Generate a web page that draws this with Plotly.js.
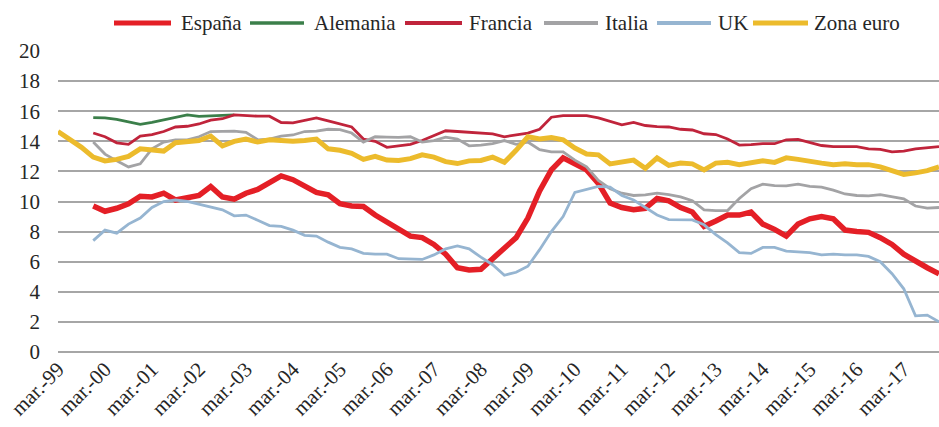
<!DOCTYPE html>
<html>
<head>
<meta charset="utf-8">
<script src="https://cdn.plot.ly/plotly-3.0.1.min.js"></script>
<style>html,body{margin:0;padding:0;background:#fff;}#chart{width:939px;height:427px;}</style>
</head>
<body>
<div id="chart"></div>
<script>
// Quarterly series, mar-99 .. dec-17 (76 quarters)
const tickLabels = ['mar.-99','mar.-00','mar.-01','mar.-02','mar.-03','mar.-04','mar.-05','mar.-06','mar.-07','mar.-08','mar.-09','mar.-10','mar.-11','mar.-12','mar.-13','mar.-14','mar.-15','mar.-16','mar.-17'];

const espana = [null,null,null,9.7,9.35,9.55,9.85,10.35,10.3,10.55,10.1,10.25,10.4,11.0,10.3,10.15,10.55,10.8,11.2,11.7,11.45,11.0,10.6,10.45,9.85,9.7,9.67,9.1,8.6,8.1,7.7,7.6,7.15,6.5,5.6,5.45,5.5,6.2,6.9,7.6,8.9,10.7,12.1,12.9,12.5,12.1,11.2,9.9,9.6,9.45,9.55,10.2,10.05,9.6,9.3,8.35,8.7,9.1,9.1,9.3,8.5,8.15,7.7,8.5,8.85,9.0,8.85,8.1,8.0,7.95,7.6,7.15,6.5,6.0,5.6,5.2];

const alemania = [null,null,null,15.57,15.55,15.45,15.27,15.12,15.25,15.43,15.6,15.75,15.65,15.7,15.75,15.75];

const francia = [null,null,null,14.55,14.3,13.9,13.8,14.35,14.45,14.65,14.95,15.0,15.15,15.4,15.5,15.75,15.7,15.67,15.67,15.25,15.22,15.4,15.55,15.35,15.15,14.95,14.15,14.0,13.6,13.7,13.8,14.05,14.4,14.7,14.65,14.6,14.5,14.5,14.3,14.45,14.55,14.8,15.6,15.7,15.72,15.7,15.55,15.35,15.1,15.25,15.05,14.97,14.95,14.8,14.75,14.5,14.45,14.15,13.75,13.78,13.84,13.84,14.1,14.13,13.92,13.72,13.65,13.65,13.65,13.5,13.47,13.3,13.35,13.5,13.6,13.65];

const italia = [null,null,null,13.95,13.15,12.7,12.3,12.5,13.5,13.95,14.1,14.1,14.3,14.65,14.68,14.68,14.6,14.1,14.15,14.35,14.42,14.65,14.68,14.8,14.78,14.55,13.95,14.3,14.28,14.26,14.3,13.95,14.05,14.28,14.15,13.7,13.75,13.85,14.05,13.8,13.95,13.45,13.3,13.3,12.75,12.3,11.4,10.85,10.55,10.4,10.44,10.55,10.45,10.3,10.05,9.45,9.4,9.4,10.2,10.85,11.15,11.05,11.04,11.15,11.0,10.96,10.75,10.5,10.4,10.38,10.45,10.3,10.18,9.7,9.56,9.6];

const uk = [null,null,null,7.4,8.1,7.9,8.5,8.9,9.6,10.0,10.1,10.0,9.8,9.65,9.45,9.05,9.1,8.75,8.4,8.35,8.1,7.75,7.7,7.3,6.95,6.85,6.55,6.5,6.5,6.2,6.15,6.15,6.45,6.85,7.05,6.85,6.3,5.8,5.1,5.3,5.7,6.8,8.0,9.0,10.6,10.8,11.0,10.95,10.4,10.1,9.6,9.1,8.8,8.78,8.78,8.45,7.8,7.25,6.6,6.55,6.95,6.95,6.7,6.65,6.6,6.45,6.5,6.45,6.45,6.35,6.0,5.2,4.2,2.4,2.45,2.0];

const zonaEuro = [14.65,14.15,13.6,12.95,12.7,12.8,13.0,13.5,13.45,13.35,13.9,13.95,14.05,14.35,13.7,14.0,14.15,13.95,14.1,14.05,14.0,14.05,14.15,13.5,13.4,13.2,12.8,13.0,12.75,12.73,12.85,13.1,12.95,12.65,12.52,12.7,12.73,12.95,12.6,13.4,14.3,14.15,14.25,14.1,13.55,13.15,13.1,12.5,12.65,12.75,12.2,12.9,12.4,12.55,12.5,12.1,12.55,12.6,12.45,12.55,12.7,12.6,12.9,12.8,12.65,12.55,12.45,12.5,12.45,12.45,12.3,12.05,11.8,11.9,12.05,12.3];

const seriesNames = ['España','Alemania','Francia','Italia','UK','Zona euro'];
const seriesData = [espana, alemania, francia, italia, uk, zonaEuro];
const seriesColors = ['#e41f26','#3b7f4a','#c0243b','#a3a3a5','#96b5d1','#ecbb2c'];
const seriesWidths = [5.5, 2.8, 2.8, 2.8, 2.8, 5];

const traces = seriesData.map((vals, k) => ({
  type: 'scatter',
  mode: 'lines',
  name: seriesNames[k],
  x: vals.map((_, i) => i),
  y: vals,
  line: {color: seriesColors[k], width: seriesWidths[k]},
  connectgaps: false,
  showlegend: false,
  hoverinfo: 'skip'
}));

// manual legend (pixel layout converted to paper coords)
const L = 58, W = 881, T = 51, H = 301;
const px = v => (v - L) / W;
const py = v => (T + H - v) / H;
const legLine = [[114,171],[250,304],[405,462],[544,598],[657,711],[753,808]];
const legText = [179,312,467,603,716,812];
const legWidth = [5,3.5,4,4,4,5];
const legY = 23;
const FONT = 'Liberation Serif, Times New Roman, serif';
const shapes = [], annotations = [];
seriesNames.forEach((n, k) => {
  shapes.push({type:'line', xref:'paper', yref:'paper', x0:px(legLine[k][0]), x1:px(legLine[k][1]), y0:py(legY), y1:py(legY), line:{color:seriesColors[k], width:legWidth[k]}});
  annotations.push({xref:'paper', yref:'paper', x:px(legText[k]), y:py(legY), xanchor:'left', yanchor:'middle', text:n, showarrow:false, font:{family:FONT, size:21, color:'#262626'}});
});

const layout = {
  width: 939, height: 427,
  margin: {l: L, r: 0, t: T, b: 427 - T - H},
  paper_bgcolor: '#ffffff', plot_bgcolor: '#ffffff',
  font: {family: FONT, size: 21, color: '#262626'},
  showlegend: false,
  xaxis: {
    range: [0, 75], showgrid: false, zeroline: false, showline: false, ticks: '',
    tickmode: 'array', tickvals: tickLabels.map((_, i) => i * 4), ticktext: tickLabels,
    tickangle: -45, tickfont: {size: 21}, fixedrange: true
  },
  yaxis: {
    range: [0, 20], dtick: 2, tick0: 0, showgrid: true, gridcolor: '#a6a6a6', gridwidth: 2,
    zeroline: true, zerolinecolor: '#a6a6a6', zerolinewidth: 2, showline: false, ticks: '',
    ticklabelstandoff: 17, tickfont: {size: 21}, fixedrange: true
  },
  shapes: shapes,
  annotations: annotations
};

Plotly.newPlot('chart', traces, layout, {staticPlot: true, displayModeBar: false});
</script>
</body>
</html>
